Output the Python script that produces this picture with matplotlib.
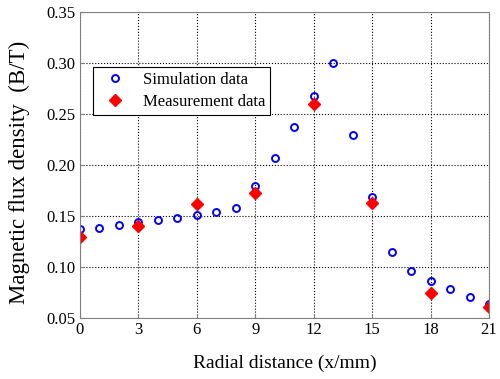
import matplotlib.pyplot as plt

sim_x = [0, 1, 2, 3, 4, 5, 6, 7, 8, 9, 10, 11, 12, 13, 14, 15, 16, 17, 18, 19, 20, 21]
sim_y = [0.137, 0.138, 0.1405, 0.1435, 0.1454, 0.148, 0.1507, 0.1536, 0.1572, 0.179, 0.207,
         0.237, 0.268, 0.300, 0.229, 0.168, 0.1148, 0.0962, 0.0861, 0.0779, 0.0704, 0.0632]

meas_x = [0, 3, 6, 9, 12, 15, 18, 21]
meas_y = [0.1295, 0.1399, 0.1611, 0.1719, 0.2594, 0.1624, 0.0737, 0.060]

xticks = [0, 3, 6, 9, 12, 15, 18, 21]
yticks = [0.05, 0.10, 0.15, 0.20, 0.25, 0.30, 0.35]

plt.rcParams['font.family'] = ['Liberation Serif', 'DejaVu Serif']

fig = plt.figure(figsize=(5, 3.79), dpi=100)
ax = fig.add_axes([0.16, 0.162, 0.818, 0.806])

ax.plot(sim_x, sim_y, 'o', mfc='none', mec='blue', mew=1.4, ms=5, label='Simulation data')
ax.plot(meas_x, meas_y, 'D', color='red', ms=6.5, label='Measurement data')

ax.set_xlim(0, 21)
ax.set_ylim(0.05, 0.35)
ax.set_xticks(xticks)
ax.set_yticks(yticks)
ax.set_yticklabels([f'{v:.2f}' for v in yticks])
ax.tick_params(direction='in', labelsize=12, length=3, color='#808080')
ax.grid(True, linestyle=':', color='black', linewidth=0.8)
for s in ax.spines.values():
    s.set_color('#808080')

ax.set_xlabel('Radial distance (x/mm)', fontsize=14, labelpad=12)
ax.set_ylabel('Magnetic flux density  (B/T)', fontsize=16.5)
ax.yaxis.set_label_coords(-0.122, 0.477)

leg = ax.legend(loc='upper left', bbox_to_anchor=(0.032, 0.82), fontsize=12, fancybox=False,
                edgecolor='black', framealpha=1, borderpad=0.3, handletextpad=0.7,
                labelspacing=0.35, handlelength=2.0, borderaxespad=0)
leg.get_frame().set_linewidth(0.8)

fig.savefig('out.png', dpi=100)
